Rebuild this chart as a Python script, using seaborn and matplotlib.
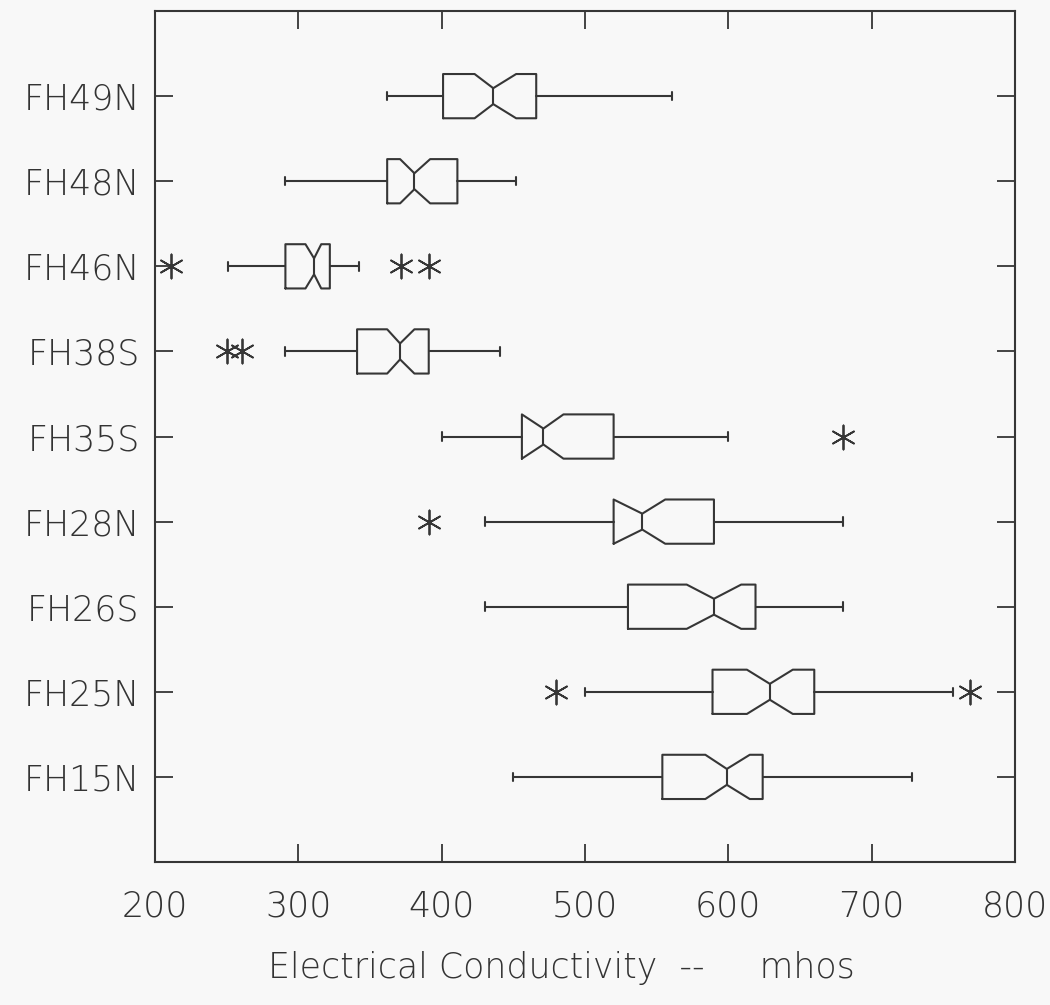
import matplotlib
matplotlib.use("Agg")
import matplotlib.pyplot as plt
import seaborn as sns
import numpy as np
import pandas as pd

# Sampling stations, bottom to top
stations = ["FH15N", "FH25N", "FH26S", "FH28N", "FH35S", "FH38S", "FH46N", "FH48N", "FH49N"]

# Box-plot summary statistics (electrical conductivity, mhos)
whisker_lo = [450, 500, 430, 430, 400, 291, 251, 291, 362]
q1 = [554, 589, 530, 520, 456, 341, 291, 362, 401]
notch_lo = [584, 613, 571, 520, 456, 362, 305, 371, 423]
median = [599, 629, 590, 540, 471, 371, 311, 381, 436]
notch_hi = [615, 645, 609, 556, 485, 381, 316, 392, 452]
q3 = [624, 660, 619, 590, 520, 391, 322, 411, 466]
whisker_hi = [728, 757, 680, 680, 600, 441, 342, 452, 561]

# Outside values
outlier_station = ["FH25N", "FH25N", "FH28N", "FH35S", "FH38S", "FH38S", "FH46N", "FH46N", "FH46N"]
outlier_value = [480, 769, 391, 680, 250, 261, 211, 372, 391]

x_ticks = [200, 300, 400, 500, 600, 700, 800]

INK = "#363636"
TEXT = "#333333"
BG = "#f8f8f8"
BOX_W = 0.52
WAIST = 0.18  # half-width of notch waist, as fraction of box width

sns.set_style("ticks")
plt.rcParams["font.family"] = ["DejaVu Sans"]
plt.rcParams["font.weight"] = "light"

fig = plt.figure(figsize=(10.5, 10.05), dpi=100, facecolor=BG)
ax = fig.add_axes([0.1476, 0.1423, 0.819, 0.8467], facecolor=BG)

positions = np.arange(1, len(stations) + 1)
stats = []
for i, name in enumerate(stations):
    stats.append(dict(label=name, whislo=whisker_lo[i], q1=q1[i], cilo=notch_lo[i],
                      med=median[i], cihi=notch_hi[i], q3=q3[i], whishi=whisker_hi[i],
                      fliers=[]))

lp = dict(color=INK, linewidth=1.5)
art = ax.bxp(stats, positions=positions, widths=BOX_W, orientation="horizontal",
             shownotches=True, showfliers=False, capwidths=0.1,
             boxprops=lp, whiskerprops=lp, capprops=lp, medianprops=lp,
             manage_ticks=False)

# narrow the notch waist
for pos, box, med in zip(positions, art["boxes"], art["medians"]):
    y = np.asarray(box.get_ydata(), dtype=float)
    y[np.isclose(y, pos - BOX_W * 0.25)] = pos - BOX_W * WAIST
    y[np.isclose(y, pos + BOX_W * 0.25)] = pos + BOX_W * WAIST
    box.set_ydata(y)
    med.set_ydata([pos - BOX_W * WAIST, pos + BOX_W * WAIST])

out_df = pd.DataFrame({
    "value": outlier_value,
    "pos": [stations.index(s) + 1 for s in outlier_station],
})
sns.scatterplot(data=out_df, x="value", y="pos", ax=ax, marker=(6, 2, 0),
                s=300, color=INK, linewidth=1.3, legend=False)

ax.set_xlim(200, 800)
ax.set_ylim(0, 10)
ax.set_xticks(x_ticks)
ax.set_xticklabels([str(v) for v in x_ticks])
ax.set_yticks(positions)
ax.set_yticklabels(stations)

for side in ["left", "right", "top", "bottom"]:
    ax.spines[side].set_visible(True)
    ax.spines[side].set_color(INK)
    ax.spines[side].set_linewidth(1.5)

ax.tick_params(axis="both", direction="in", length=13, width=1.3, color=INK,
               top=True, right=True, labelsize=25, labelcolor=TEXT)
ax.tick_params(axis="y", pad=11)
ax.tick_params(axis="x", pad=20)
for lab in ax.get_xticklabels() + ax.get_yticklabels():
    lab.set_fontweight("light")

ax.set_xlabel("Electrical Conductivity  --     mhos", fontsize=25, color=TEXT,
              fontweight="light")
ax.xaxis.set_label_coords(0.472, -0.125)
ax.xaxis.label.set_verticalalignment("center")
ax.set_ylabel("")

fig.savefig("out.png", dpi=100, facecolor=BG)
